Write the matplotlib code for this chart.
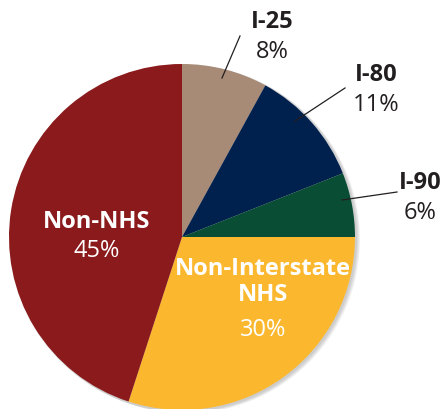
import matplotlib.pyplot as plt
from matplotlib.patches import Circle

# Data
labels = ["I-25", "I-80", "I-90", "Non-Interstate\nNHS", "Non-NHS"]
shares = [8, 11, 6, 30, 45]
colors = ["#A88B76", "#00204E", "#0A4D35", "#FBB82F", "#8A1A1B"]

plt.rcParams['font.family'] = ['Open Sans', 'DejaVu Sans']

fig = plt.figure(figsize=(4.47, 4.10), dpi=100)
ax = fig.add_axes([0, 0, 1, 1])

H = 410
cx, cy, r = 182, H - 238, 173

# soft shadow on right side
for i, a in enumerate([0.05, 0.05, 0.05, 0.05]):
    ax.add_patch(Circle((cx + 1 + i, cy - 1 - i * 0.5), r + 1, color="black", alpha=a, lw=0, zorder=0))

ax.pie(shares, colors=colors, startangle=90, counterclock=False,
       center=(cx, cy), radius=r, frame=True,
       wedgeprops=dict(linewidth=0, zorder=1))

ax.set_xlim(0, 447)
ax.set_ylim(0, H)
ax.set_aspect("equal")
ax.axis("off")

fs = 17
dark = "#231F20"

# outside labels with leader lines
outside = [
    (0, 272, 22, (222, 79), (240, 37)),
    (1, 376, 75, (295, 122), (345, 89)),
    (2, 420, 183, (342, 201), (397, 193)),
]
for idx, tx, ty, p0, p1 in outside:
    ax.text(tx, H - ty, labels[idx], ha="center", va="center", fontsize=fs,
            fontweight="bold", color=dark)
    ax.text(tx, H - ty - 30, f"{shares[idx]}%", ha="center", va="center",
            fontsize=fs, color=dark)
    ax.plot([p0[0], p1[0]], [H - p0[1], H - p1[1]], color=dark, lw=0.9)

# inside labels
ax.text(97, H - 222, labels[4], ha="center", va="center", fontsize=fs,
        fontweight="bold", color="white")
ax.text(97, H - 251, f"{shares[4]}%", ha="center", va="center", fontsize=fs,
        color="white")
ax.text(263, H - 282, labels[3], ha="center", va="center", fontsize=fs,
        fontweight="bold", color="white", linespacing=1.1)
ax.text(263, H - 330, f"{shares[3]}%", ha="center", va="center", fontsize=fs,
        color="white")

fig.savefig("out.png", dpi=100)
